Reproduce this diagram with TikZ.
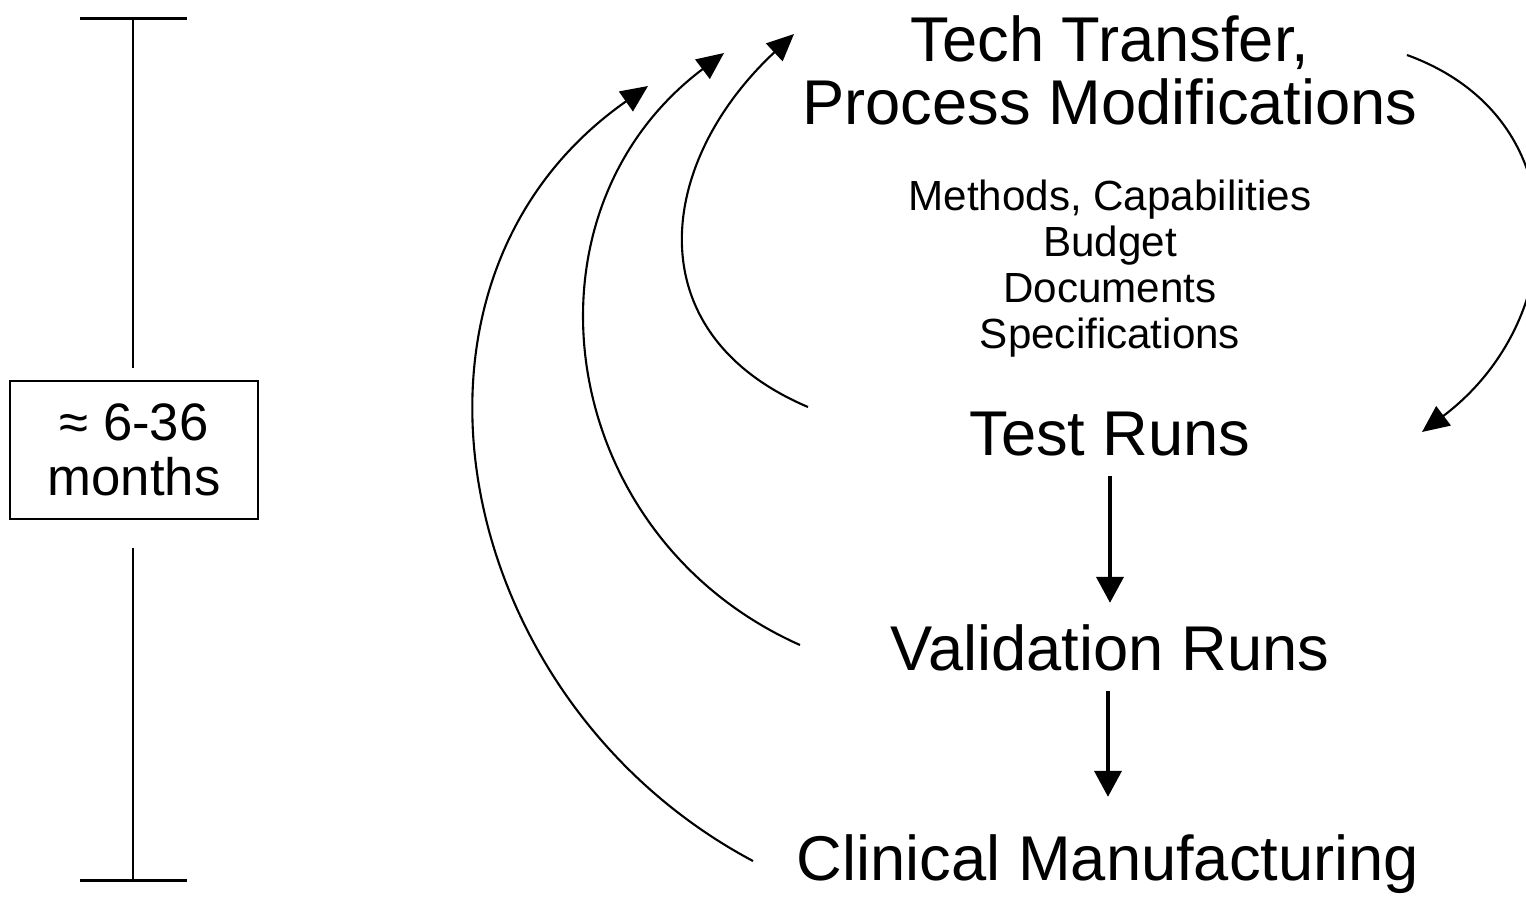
\documentclass[tikz,border=0pt]{standalone}
\usepackage{fontspec}
\setmainfont{Liberation Sans}
\usetikzlibrary{arrows.meta}

\begin{document}
\begin{tikzpicture}[x=0.02cm,y=0.02cm,
  big/.style={inner sep=0pt,font=\fontsize{36}{36}\selectfont},
  feedback/.style={line width=1.2pt,-{Triangle[length=0.54cm,width=0.48cm]}},
  down/.style={line width=2.2pt,-{Triangle[length=0.52cm,width=0.54cm]}},
  bar/.style={line width=1.7pt}]
\useasboundingbox (0,0) rectangle (1526,-897);
\clip (0,0) rectangle (1526,-897);
% time scale on the left
\coordinate (tA) at (133,-18);
\coordinate (tB) at (133,-368);
\coordinate (bA) at (133,-548);
\coordinate (bB) at (133,-880);
\draw[bar] (tA) ++(-53,0) -- ++(107,0);
\draw[bar] (bB) ++(-53,0) -- ++(107,0);
\draw[bar] (tA) -- (tB);
\draw[bar] (bA) -- (bB);
\node[draw,line width=1.1pt,inner sep=0pt,minimum width=4.96cm,minimum height=2.76cm,
  align=center,font=\fontsize{30}{31.3}\selectfont] (span) at (134,-450) {≈ 6-36\\months};
% stages
\node[big,align=center] (tech) at (1110,-70.5) {Tech Transfer,\\Process Modifications};
\node[inner sep=0pt,align=center,font=\fontsize{24}{26.2}\selectfont] (items) at (1110,-269)
  {Methods, Capabilities\\Budget\\Documents\\Specifications};
\node[big,anchor=base] (test) at (1110,-455) {Test Runs};
\node[big,anchor=base] (valid) at (1110,-670) {Validation Runs};
\node[big,anchor=base] (clin) at (1108,-880) {Clinical Manufacturing};
\draw[down,shorten <=0.4cm,shorten >=0.42cm] (test.south) -- (valid.north);
\draw[down,shorten <=0.4cm,shorten >=0.74cm] (clin.north |- valid.south) -- (clin.north);
% feedback loops
\coordinate (s1) at (808,-407);
\coordinate (e1) at (794,-34);
\coordinate (s2) at (800,-645);
\coordinate (e2) at (724,-53);
\coordinate (s3) at (753,-861);
\coordinate (e3) at (648,-86);
\coordinate (s4) at (1407,-55);
\coordinate (e4) at (1422,-432);
\draw[feedback] (s1) to[out=157,in=223,looseness=1.29] (e1);
\draw[feedback] (s2) to[out=156,in=217,looseness=1.147] (e2);
\draw[feedback] (s3) to[out=152,in=215,looseness=1.118] (e3);
\draw[feedback] (s4) to[out=-20,in=37,looseness=1.25] (e4);
\end{tikzpicture}
\end{document}
